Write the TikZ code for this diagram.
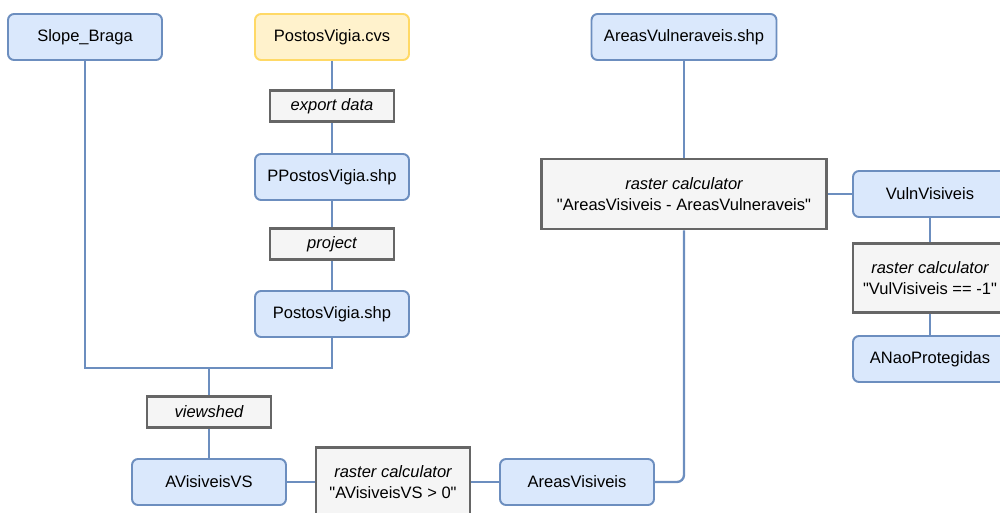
\documentclass[tikz,border=0pt]{standalone}
\usepackage{fontspec}
\setmainfont{Liberation Sans}
\usetikzlibrary{positioning}

\definecolor{dblue}{HTML}{6C8EBF}
\definecolor{lblue}{HTML}{DAE8FC}
\definecolor{dyel}{HTML}{FFD966}
\definecolor{lyel}{HTML}{FFF2CC}
\definecolor{dgrey}{HTML}{666666}
\definecolor{lgrey}{HTML}{F5F5F5}

\newcommand{\qq}{\textquotedbl}

\tikzstyle{layer} = [draw=dblue, fill=lblue, rounded corners=.12cm,
    line width=1.1pt, minimum width=3.08cm, minimum height=.92cm, inner sep=0pt]
\tikzstyle{source} = [layer, draw=dyel, fill=lyel]
\tikzstyle{tool} = [draw=dgrey, fill=lgrey, line width=1.6pt,
    minimum width=2.48cm, minimum height=.62cm, inner sep=0pt, align=center]
\tikzstyle{link} = [draw=dblue, line width=1.3pt]

\begin{document}
\begin{tikzpicture}[x=.02cm, y=-.02cm, font=\fontsize{9.4}{11.5}\selectfont]
  \useasboundingbox (0,0) rectangle (1000,513);
  \clip (0,0) rectangle (1000,513);

  \node (slope) [layer] at (85,37) {Slope\_Braga};
  \node (pcvs) [source] at (332,37) {PostosVigia.cvs};
  \node (exp) [tool] at (332,106) {\itshape export data};
  \node (ppshp) [layer] at (332,177) {PPostosVigia.shp};
  \node (proj) [tool] at (332,244) {\itshape project};
  \node (pshp) [layer] at (332,314) {PostosVigia.shp};
  \coordinate (j) at (209,368);
  \node (vs) [tool] at (209,412) {\itshape viewshed};
  \node (avvs) [layer] at (209,482) {AVisiveisVS};
  \node (rc1) [tool, minimum width=3.08cm, minimum height=1.38cm] at (393,482)
    {{\itshape raster calculator}\\\qq AVisiveisVS > 0\qq};
  \node (av) [layer] at (577,482) {AreasVisiveis};

  \node (avul) [layer, minimum width=3.7cm] at (684,37) {AreasVulneraveis.shp};
  \node (rc2) [tool, minimum width=5.7cm, minimum height=1.4cm] at (684,194)
    {{\itshape raster calculator}\\\qq AreasVisiveis - AreasVulneraveis\qq};
  \node (vvis) [layer] at (930,194) {VulnVisiveis};
  \node (rc3) [tool, minimum width=3.08cm, minimum height=1.38cm] at (930,278)
    {{\itshape raster calculator}\\\qq VulVisiveis == -1\qq};
  \node (anp) [layer] at (930,359) {ANaoProtegidas};

  \draw [link] (pcvs) -- (exp);
  \draw [link] (exp) -- (ppshp);
  \draw [link] (ppshp) -- (proj);
  \draw [link] (proj) -- (pshp);
  \draw [link] (slope) |- (j);
  \draw [link] (pshp) |- (j);
  \draw [link] (j) -- (vs);
  \draw [link] (vs) -- (avvs);
  \draw [link] (avvs) -- (rc1);
  \draw [link] (rc1) -- (av);
  \draw [link, rounded corners=4pt] (av) -| (rc2);
  \draw [link] (avul) -- (rc2);
  \draw [link] (rc2) -- (vvis);
  \draw [link] (vvis) -- (rc3);
  \draw [link] (rc3) -- (anp);
\end{tikzpicture}
\end{document}
